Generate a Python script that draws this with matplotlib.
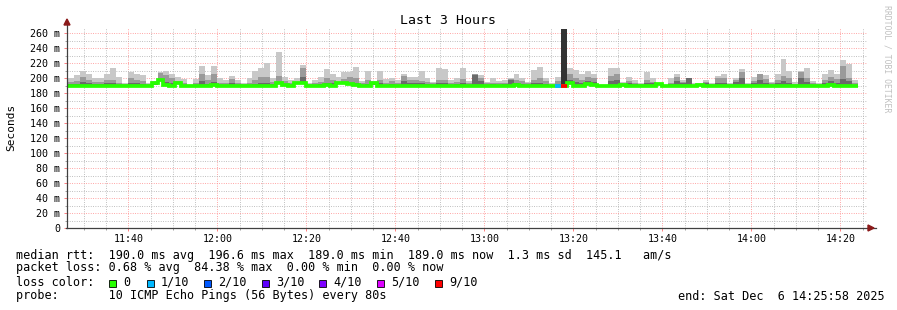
import numpy as np
import matplotlib
matplotlib.use("Agg")
import matplotlib.pyplot as plt
from matplotlib.patches import Rectangle, Polygon

# smokeping style chart, 80 s steps, values in ms
# first bin starts at 11:25:14 (partly left of the plot)
bin_start = "11:25:14"
step_s = 80

hi = [200,
      200, 204, 210, 206, 200, 200, 206, 213, 201, 194, 208, 205, 204, 194, 196, 208, 209, 206, 202, 199, 190, 199, 216, 204, 216, 200, 197,
      203, 197, 194, 200, 209, 214, 220, 200, 235, 201, 198, 200, 217, 194, 197, 201, 212, 206, 201, 208, 208, 215, 196, 210, 196, 209, 199,
      200, 197, 206, 202, 202, 209, 200, 195, 214, 212, 197, 200, 214, 196, 206, 204, 195, 200, 196, 197, 200, 205, 200, 195, 211, 215, 200,
      193, 202, 265, 214, 211, 205, 209, 206, 191, 191, 214, 214, 195, 202, 197, 194, 208, 200, 194, 190, 200, 206, 197, 200, 193, 194, 198,
      194, 203, 205, 194, 200, 212, 194, 202, 206, 204, 195, 205, 226, 209, 195, 209, 214, 196, 194, 206, 211, 205, 224, 219, 197]
mid = [195,
       195, 196, 202, 198, 195, 195, 198, 197, 193, 192, 200, 198, 196, 192, 193, 207, 204, 200, 196, 193, 190, 193, 206, 198, 206, 194, 193,
       199, 194, 192, 193, 198, 201, 202, 195, 203, 196, 194, 194, 214, 192, 193, 195, 200, 198, 195, 199, 201, 200, 193, 197, 194, 198, 194,
       196, 194, 203, 198, 197, 196, 195, 193, 197, 198, 193, 195, 199, 193, 205, 200, 193, 194, 193, 194, 199, 198, 196, 193, 198, 200, 196,
       191, 196, 265, 206, 200, 198, 202, 200, 190, 190, 203, 206, 193, 196, 194, 192, 197, 195, 192, 190, 194, 202, 195, 200, 191, 192, 195,
       192, 200, 200, 192, 198, 208, 192, 196, 205, 199, 193, 198, 203, 200, 192, 208, 200, 193, 192, 198, 202, 199, 216, 200, 193]
dk = [192,
      192, 192, 195, 194, 192, 192, 193, 193, 191, 190, 193, 193, 192, 190, 191, 196, 195, 194, 192, 191, 189, 191, 196, 192, 195, 191, 191,
      194, 191, 190, 191, 192, 193, 194, 192, 194, 192, 191, 192, 201, 190, 191, 192, 194, 193, 192, 193, 194, 193, 191, 192, 191, 193, 191,
      192, 191, 196, 194, 193, 193, 192, 191, 193, 193, 191, 192, 193, 191, 204, 196, 191, 192, 191, 192, 198, 194, 192, 191, 193, 194, 192,
      190, 192, 265, 198, 195, 194, 196, 195, 189, 189, 196, 197, 191, 193, 192, 191, 194, 193, 191, 189, 192, 196, 193, 200, 190, 191, 193,
      190, 194, 194, 190, 195, 200, 190, 193, 197, 194, 191, 194, 196, 194, 190, 200, 195, 191, 190, 194, 196, 194, 199, 196, 191]
med = [190,
       190, 190, 190, 190, 190, 190, 190, 190, 190, 189, 190, 190, 190, 189, 194, 197, 191, 190, 193, 189, 189, 190, 190, 190, 191, 190, 190,
       190, 190, 190, 190, 190, 190, 190, 190, 193, 191, 190, 193, 193, 190, 190, 190, 191, 190, 194, 193, 192, 191, 190, 190, 193, 190, 190,
       190, 190, 190, 190, 190, 190, 190, 190, 190, 190, 190, 190, 190, 190, 190, 190, 190, 189, 190, 190, 190, 191, 190, 190, 190, 190, 190,
       190, 190, 189, 193, 190, 190, 192, 191, 189, 189, 190, 190, 191, 190, 190, 190, 190, 190, 192, 190, 190, 190, 190, 190, 190, 191, 190,
       190, 190, 190, 190, 190, 190, 190, 190, 190, 190, 190, 190, 190, 190, 190, 190, 190, 190, 190, 190, 191, 190, 190, 190, 190]
# loss per bin in tenths (only the non zero ones)
loss_bins = {83: 1, 84: 9}

loss_labels = ["0", "1/10", "2/10", "3/10", "4/10", "5/10", "9/10"]
loss_cols = ["#26ff00", "#00b8ff", "#0059ff", "#5e00ff", "#7e00ff", "#dd00ff", "#ff0000"]
loss_key = {0: 0, 1: 1, 2: 2, 3: 3, 4: 4, 5: 5, 9: 6}

stats1 = "median rtt:  190.0 ms avg  196.6 ms max  189.0 ms min  189.0 ms now  1.3 ms sd  145.1   am/s"
stats2 = "packet loss: 0.68 % avg  84.38 % max  0.00 % min  0.00 % now"
probe = "probe:       10 ICMP Echo Pings (56 Bytes) every 80s"
endtxt = "end: Sat Dec  6 14:25:58 2025"

W, H = 897, 310
MONO = "DejaVu Sans Mono"

def tmin(s):
    h, m, sec = [int(v) for v in s.split(":")]
    return h * 60 + m + sec / 60.0

# x axis in minutes after 11:40
n = len(med)
edges = tmin(bin_start) - tmin("11:40:00") + np.arange(n + 1) * step_s / 60.0
lo = np.array(med) - 1.0

fig = plt.figure(figsize=(W / 100, H / 100), dpi=100)
fig.patch.set_facecolor("white")
ax = fig.add_axes([67 / W, 1 - 228 / H, 800 / W, 200 / H])
ax.set_xlim(-13.775, 165.99)
ax.set_ylim(0, 266.67)

ax.stairs(hi, edges, baseline=lo, fill=True, color="#c8c8c8", lw=0, zorder=2)
ax.stairs(mid, edges, baseline=lo, fill=True, color="#9a9a9a", lw=0, zorder=3)
ax.stairs(dk, edges, baseline=lo, fill=True, color="#6a6a6a", lw=0, zorder=4)
# 9/10 loss bin shows as dark column
for k in loss_bins:
    if loss_bins[k] >= 5:
        ax.fill_between([edges[k], edges[k + 1]], lo[k], hi[k], color="#333333", lw=0, zorder=5)

ax.stairs(med, edges, color=loss_cols[0], lw=2.7, baseline=None, zorder=6)
for k, l in loss_bins.items():
    ax.hlines(med[k], edges[k], edges[k + 1], color=loss_cols[loss_key[l]], lw=2.7, zorder=7)

# grid
ax.set_yticks(np.arange(0, 261, 20))
ax.set_yticks(np.arange(10, 261, 20), minor=True)
ax.set_yticklabels(["0"] + ["%d m" % v for v in range(20, 261, 20)])
xt = np.arange(0, 161, 20)
ax.set_xticks(xt)
ax.set_xticks(np.arange(-10, 166, 5), minor=True)
ax.set_xticklabels(["%d:%02d" % ((11 * 60 + 40 + v) // 60, (11 * 60 + 40 + v) % 60) for v in xt])
ax.grid(which="minor", color="#b0b0b0", lw=0.7, linestyle=(0, (0.8, 1.6)), zorder=8)
ax.grid(which="major", color="#ff9090", lw=0.7, linestyle=(0, (0.8, 1.6)), zorder=9)
ax.tick_params(which="both", labelsize=7.2, colors="#000000", pad=2.6)
ax.tick_params(axis="x", which="both", pad=2.0)
ax.tick_params(which="major", length=2.5, color="#ff8080", width=0.7)
ax.tick_params(which="minor", length=1.5, color="#a0a0a0", width=0.7)
for lab in ax.get_xticklabels() + ax.get_yticklabels():
    lab.set_family(MONO)
for s in ["top", "right"]:
    ax.spines[s].set_visible(False)
for s in ["left", "bottom"]:
    ax.spines[s].set_color("#404040")
    ax.spines[s].set_linewidth(0.9)
    ax.spines[s].set_zorder(10)
ax.spines["left"].set_bounds(0, 276)
ax.spines["bottom"].set_bounds(-14, 168)

# arrows
fig.patches.append(Polygon([(64 / W, 1 - 25 / H), (70 / W, 1 - 25 / H), (67 / W, 1 - 19 / H)],
                           closed=True, color="#8b1a1a", transform=fig.transFigure))
fig.patches.append(Polygon([(868 / W, 1 - 225 / H), (868 / W, 1 - 231 / H), (874 / W, 1 - 228 / H)],
                           closed=True, color="#8b1a1a", transform=fig.transFigure))

fig.text(448 / W, 1 - 20 / H, "Last 3 Hours", family=MONO, fontsize=9.5, ha="center", va="center")
fig.text(11 / W, 1 - 127 / H, "Seconds", family=MONO, fontsize=8, rotation=90, ha="center", va="center")
fig.text(887 / W, 1 - 5 / H, "RRDTOOL / TOBI OETIKER", family=MONO, fontsize=5.9, rotation=270,
         ha="center", va="top", color="#c0c0c0")

fs = 8.5
fig.text(16 / W, 1 - 255 / H, stats1, family=MONO, fontsize=fs, va="center")
fig.text(16 / W, 1 - 268 / H, stats2, family=MONO, fontsize=fs, va="center")
fig.text(16 / W, 1 - 282 / H, "loss color:", family=MONO, fontsize=fs, va="center")
sw_x = [109, 146.5, 204, 262, 319, 377, 435]
for i, lab in enumerate(loss_labels):
    fig.patches.append(Rectangle((sw_x[i] / W, 1 - 286.5 / H), 7 / W, 7 / H, facecolor=loss_cols[i],
                                 edgecolor="black", lw=0.6, transform=fig.transFigure))
    fig.text((sw_x[i] + 14) / W, 1 - 282 / H, lab, family=MONO, fontsize=fs, va="center")
fig.text(16 / W, 1 - 296 / H, probe, family=MONO, fontsize=fs, va="center")
fig.text(678 / W, 1 - 296 / H, endtxt, family=MONO, fontsize=fs, va="center")

fig.savefig("out.png", dpi=100)
